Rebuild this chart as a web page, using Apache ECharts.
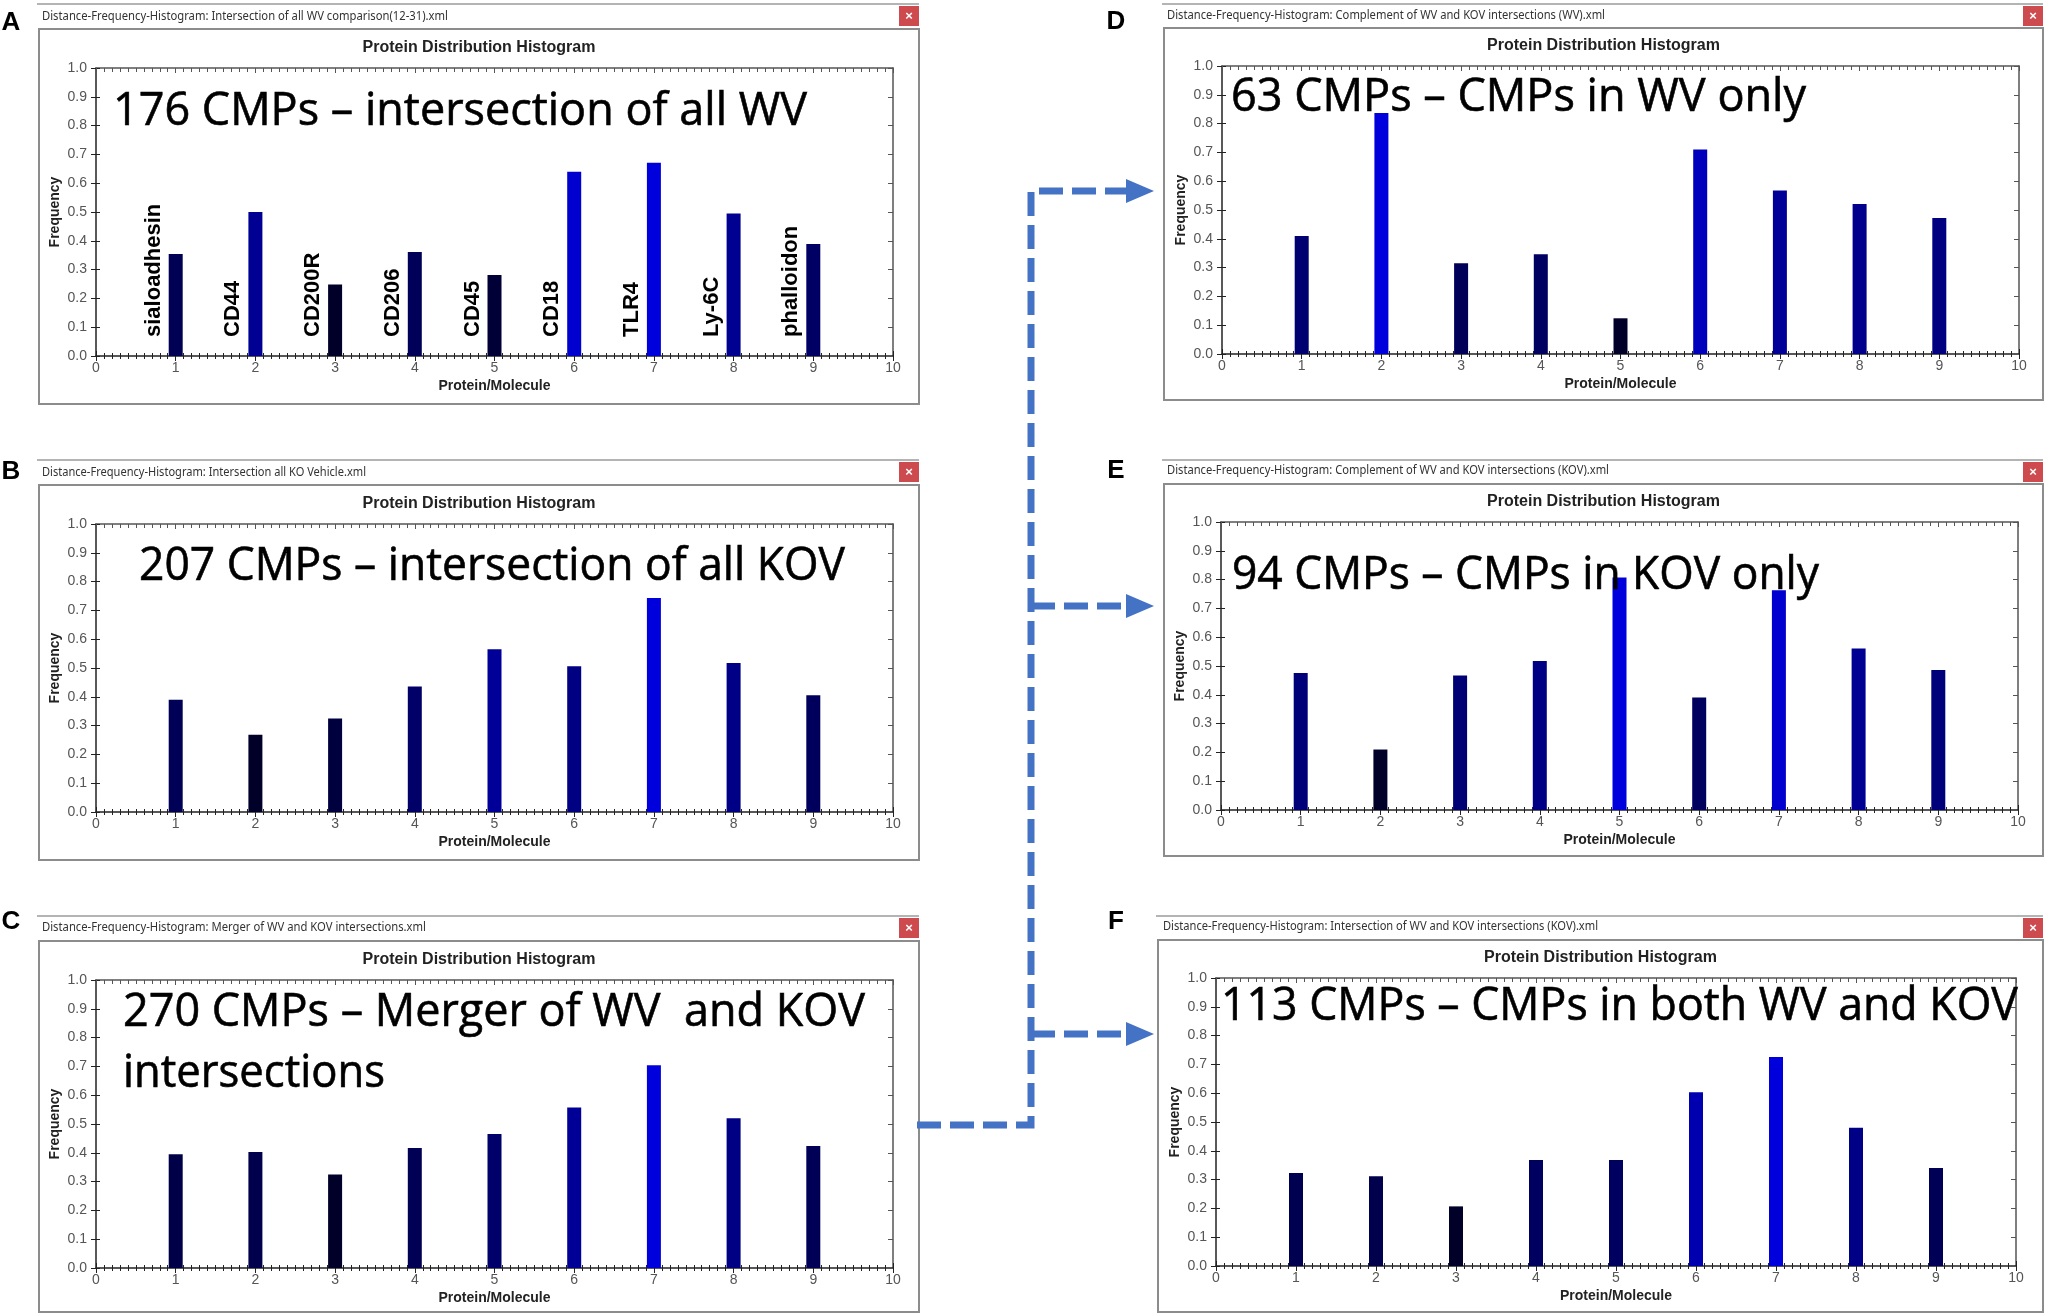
<!DOCTYPE html>
<html lang="en">
<head>
<meta charset="UTF-8">
<title>Protein Distribution Histograms</title>
<script src="https://cdn.jsdelivr.net/npm/echarts@6/dist/echarts.min.js"></script>
<style>
    html, body { margin: 0; padding: 0; background: #fff; }
    #chart { width: 2045px; height: 1314px; }
</style>
</head>
<body>
<div id="chart"></div>
<script>
// ---- data ----
var positions = [1, 2, 3, 4, 5, 6, 7, 8, 9];
var proteinNames = ['sialoadhesin', 'CD44', 'CD200R', 'CD206', 'CD45', 'CD18', 'TLR4', 'Ly-6C', 'phalloidon'];

var freqA = [0.354, 0.500, 0.248, 0.361, 0.281, 0.640, 0.671, 0.495, 0.389];
var freqB = [0.390, 0.268, 0.325, 0.436, 0.565, 0.506, 0.743, 0.517, 0.405];
var freqC = [0.395, 0.403, 0.325, 0.417, 0.465, 0.557, 0.704, 0.520, 0.424];
var freqD = [0.410, 0.837, 0.315, 0.346, 0.124, 0.710, 0.568, 0.521, 0.472];
var freqE = [0.476, 0.210, 0.467, 0.517, 0.807, 0.391, 0.763, 0.561, 0.486];
var freqF = [0.323, 0.312, 0.207, 0.368, 0.368, 0.603, 0.726, 0.480, 0.340];

var panelLetters = ['A', 'B', 'C', 'D', 'E', 'F'];
var windowTitles = [
    'Distance-Frequency-Histogram: Intersection of all WV comparison(12-31).xml',
    'Distance-Frequency-Histogram: Intersection all KO Vehicle.xml',
    'Distance-Frequency-Histogram: Merger of WV and KOV intersections.xml',
    'Distance-Frequency-Histogram: Complement of WV and KOV intersections (WV).xml',
    'Distance-Frequency-Histogram: Complement of WV and KOV intersections (KOV).xml',
    'Distance-Frequency-Histogram: Intersection of WV and KOV intersections (KOV).xml'
];
var chartTitle = 'Protein Distribution Histogram';
var xName = 'Protein/Molecule';
var yName = 'Frequency';
var bigTexts = [
    ['176 CMPs \u2013 intersection of all WV'],
    ['207 CMPs \u2013 intersection of all KOV'],
    ['270 CMPs \u2013 Merger of WV  and KOV', 'intersections'],
    ['63 CMPs \u2013 CMPs in WV only'],
    ['94 CMPs \u2013 CMPs in KOV only'],
    ['113 CMPs \u2013 CMPs in both WV and KOV']
];
var allFreq = [freqA, freqB, freqC, freqD, freqE, freqF];

// ---- layout (pixels) ----
var windows = [
    { x: 39,   top: 4,   frameTop: 29,  right: 919,  bottom: 404 },
    { x: 39,   top: 460, frameTop: 485, right: 919,  bottom: 860 },
    { x: 39,   top: 916, frameTop: 941, right: 919,  bottom: 1312 },
    { x: 1164, top: 4,   frameTop: 28,  right: 2043, bottom: 400 },
    { x: 1164, top: 460, frameTop: 484, right: 2043, bottom: 856 },
    { x: 1158, top: 916, frameTop: 940, right: 2043, bottom: 1312 }
];
var grids = [
    { left: 96,   top: 68,  width: 797, height: 288 },
    { left: 96,   top: 524, width: 797, height: 288 },
    { left: 96,   top: 980, width: 797, height: 288 },
    { left: 1222, top: 66,  width: 797, height: 288 },
    { left: 1221, top: 522, width: 797, height: 288 },
    { left: 1216, top: 978, width: 800, height: 288 }
];
var titleBarText = [
    { x: 42,   y: 17,  w: 406 },
    { x: 42,   y: 473, w: 324 },
    { x: 42,   y: 928, w: 384 },
    { x: 1167, y: 16,  w: 438 },
    { x: 1167, y: 471, w: 442 },
    { x: 1163, y: 927, w: 435 }
];
var titleY = [49, 505, 961, 47, 503, 959];
var letterPos = [[11, 23], [11, 472], [11, 922], [1116, 22], [1116, 471], [1116, 922]];
var bigTextPos = [
    [{ x: 113, base: 128, w: 694 }],
    [{ x: 139, base: 583, w: 706 }],
    [{ x: 123, base: 1029, w: 742 }, { x: 123, base: 1090, w: 262 }],
    [{ x: 1231, base: 114, w: 575 }],
    [{ x: 1232, base: 592, w: 587 }],
    [{ x: 1221, base: 1023, w: 797 }]
];

var measureCtx = document.createElement('canvas').getContext('2d');
function textWidth(str, font) {
    measureCtx.font = font;
    return measureCtx.measureText(str).width;
}

var chart = echarts.init(document.getElementById('chart'));

var gridList = [], xAxes = [], yAxes = [], series = [], visualMaps = [], titles = [], elements = [];
var tickColor = '#222';
var labelFont = 'Liberation Sans';

grids.forEach(function (g, i) {
    gridList.push({ left: g.left, top: g.top, width: g.width, height: g.height, containLabel: false });

    var xBase = { gridIndex: i, type: 'value', min: 0, max: 10, interval: 1,
        splitLine: { show: false }, minorSplitLine: { show: false } };
    xAxes.push(Object.assign({}, xBase, {
        position: 'bottom',
        axisLine: { show: true, onZero: false, lineStyle: { color: tickColor, width: 1.5 } },
        axisTick: { show: true, length: 5, lineStyle: { color: tickColor } },
        minorTick: { show: true, splitNumber: 10, length: 3, lineStyle: { color: tickColor } },
        axisLabel: { margin: 5, color: '#555', fontSize: 14, fontFamily: labelFont },
        name: xName, nameLocation: 'middle', nameGap: 30,
        nameTextStyle: { fontWeight: 'bold', fontSize: 14, color: '#222', fontFamily: labelFont, verticalAlign: 'middle' }
    }));
    xAxes.push(Object.assign({}, xBase, {
        position: 'bottom',
        axisLine: { show: false, onZero: false },
        axisTick: { show: true, inside: true, length: 5, lineStyle: { color: tickColor } },
        minorTick: { show: true, splitNumber: 10, length: 3, lineStyle: { color: tickColor } },
        axisLabel: { show: false }
    }));
    xAxes.push(Object.assign({}, xBase, {
        position: 'top',
        axisLine: { show: true, onZero: false, lineStyle: { color: '#555', width: 1.5 } },
        axisTick: { show: true, inside: true, length: 5, lineStyle: { color: '#555' } },
        minorTick: { show: true, splitNumber: 10, length: 4, lineStyle: { color: '#555' } },
        axisLabel: { show: false }
    }));

    var yBase = { gridIndex: i, type: 'value', min: 0, max: 1, interval: 0.1,
        splitLine: { show: false } };
    yAxes.push(Object.assign({}, yBase, {
        position: 'left',
        axisLine: { show: true, onZero: false, lineStyle: { color: tickColor, width: 1.5 } },
        axisTick: { show: true, length: 5, lineStyle: { color: tickColor } },
        axisLabel: { margin: 9, color: '#555', fontSize: 14, fontFamily: labelFont,
            formatter: function (v) { return v.toFixed(1); } },
        name: yName, nameLocation: 'middle', nameGap: 41, nameRotate: 90,
        nameTextStyle: { fontWeight: 'bold', fontSize: 14, color: '#222', fontFamily: labelFont, verticalAlign: 'middle' }
    }));
    yAxes.push(Object.assign({}, yBase, {
        position: 'left',
        axisLine: { show: false, onZero: false },
        axisTick: { show: true, inside: true, length: 4, lineStyle: { color: tickColor } },
        axisLabel: { show: false }
    }));
    yAxes.push(Object.assign({}, yBase, {
        position: 'right',
        axisLine: { show: true, onZero: false, lineStyle: { color: '#555', width: 1.5 } },
        axisTick: { show: true, inside: true, length: 5, lineStyle: { color: '#555' } },
        axisLabel: { show: false }
    }));

    var freq = allFreq[i];
    var s = {
        type: 'bar',
        xAxisIndex: 3 * i,
        yAxisIndex: 3 * i,
        barWidth: 14,
        data: positions.map(function (p, k) { return [p, freq[k]]; })
    };
    if (i === 0) {
        s.label = {
            show: true,
            position: 'insideBottom',
            distance: 0,
            rotate: 90,
            align: 'left',
            verticalAlign: 'middle',
            offset: [19, -22],
            color: '#000',
            fontSize: 22,
            fontWeight: 'bold',
            fontFamily: labelFont,
            formatter: function (p) { return proteinNames[p.dataIndex]; }
        };
    }
    series.push(s);

    visualMaps.push({
        type: 'continuous', show: false, seriesIndex: i, dimension: 1,
        min: Math.min.apply(null, freq), max: Math.max.apply(null, freq),
        inRange: { color: ['#000028', '#0000dc'] }
    });

    var w = windows[i];
    titles.push({
        text: chartTitle,
        left: (w.x + w.right) / 2, textAlign: 'center',
        top: titleY[i] - 9, padding: 0,
        textStyle: { fontSize: 16, fontWeight: 'bold', color: '#222', fontFamily: labelFont }
    });

    // window chrome
    elements.push({ type: 'line', silent: true,
        shape: { x1: w.x - 2, y1: w.top, x2: w.right, y2: w.top },
        style: { stroke: '#b4b4b4', lineWidth: 2 } });
    elements.push({ type: 'rect', silent: true,
        shape: { x: w.x, y: w.frameTop, width: w.right - w.x, height: w.bottom - w.frameTop },
        style: { fill: 'none', stroke: '#8c8c8c', lineWidth: 2 } });
    elements.push({ type: 'rect', silent: true,
        shape: { x: w.right - 20, y: w.top + 2, width: 20, height: 20 },
        style: { fill: '#cd4a4f' } });
    elements.push({ type: 'text', silent: true, x: w.right - 10, y: w.top + 12,
        style: { text: '\u00d7', fill: '#fff', font: 'bold 13px "Liberation Sans"', align: 'center', verticalAlign: 'middle' } });

    var tb = titleBarText[i];
    var tbFont = '12px "Noto Sans"';
    elements.push({ type: 'text', silent: true, x: tb.x, y: tb.y,
        scaleX: tb.w / textWidth(windowTitles[i], tbFont),
        style: { text: windowTitles[i], fill: '#333', font: tbFont, align: 'left', verticalAlign: 'middle' } });

    elements.push({ type: 'text', silent: true, x: letterPos[i][0], y: letterPos[i][1],
        style: { text: panelLetters[i], fill: '#000', font: 'bold 26px "Liberation Sans"', align: 'center', verticalAlign: 'middle' } });

    var bigFont = '45px "Open Sans"';
    bigTexts[i].forEach(function (line, k) {
        var pos = bigTextPos[i][k];
        elements.push({ type: 'text', silent: true, z: 100, x: pos.x, y: pos.base - 16,
            scaleX: pos.w / textWidth(line, bigFont),
            style: { text: line, fill: '#000', stroke: '#000', lineWidth: 0.6, font: bigFont, align: 'left', verticalAlign: 'middle' } });
    });
});

// dashed connector arrows from C to D, E, F
var arrowStyle = { stroke: '#4472c4', lineWidth: 7, lineDash: [24, 9], fill: 'none' };
var trunkX = 1031, arrowTip = 1154, branchYs = [191, 606, 1034];
elements.push({ type: 'polyline', silent: true,
    shape: { points: [[917, 1125], [trunkX, 1125], [trunkX, branchYs[0]], [arrowTip - 26, branchYs[0]]] },
    style: arrowStyle });
[branchYs[1], branchYs[2]].forEach(function (y) {
    elements.push({ type: 'polyline', silent: true,
        shape: { points: [[trunkX, y], [arrowTip - 26, y]] }, style: arrowStyle });
});
branchYs.forEach(function (y) {
    elements.push({ type: 'polygon', silent: true,
        shape: { points: [[arrowTip - 28, y - 12], [arrowTip, y], [arrowTip - 28, y + 12]] },
        style: { fill: '#4472c4' } });
});

chart.setOption({
    animation: false,
    backgroundColor: '#fff',
    title: titles,
    grid: gridList,
    xAxis: xAxes,
    yAxis: yAxes,
    visualMap: visualMaps,
    series: series,
    graphic: { elements: elements }
});
</script>
</body>
</html>
